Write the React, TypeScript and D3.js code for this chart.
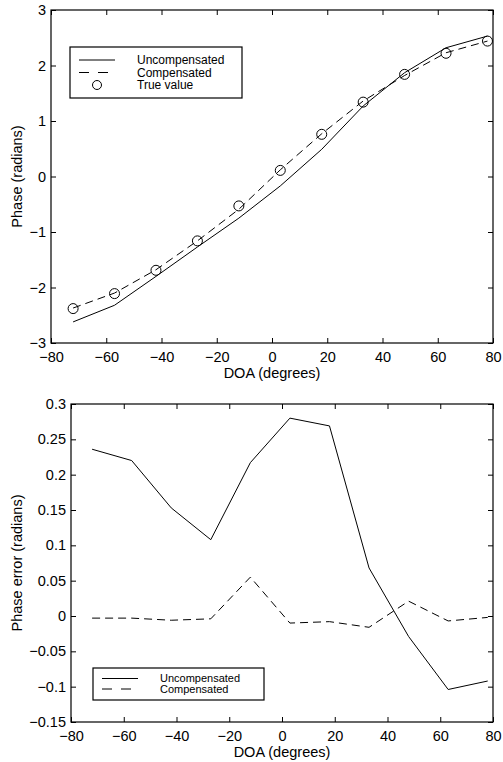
import React, { useEffect, useRef } from 'react';
import * as d3 from 'd3';

// DOA sample points (degrees)
const doa = [-72, -57, -42, -27, -12, 3, 18, 33, 48, 63, 78];

// top panel: phase (radians)
const trueVals = [-2.38, -2.11, -1.69, -1.16, -0.53, 0.11, 0.76, 1.34, 1.84, 2.22, 2.44];
const uncompPhase = [-2.62, -2.32, -1.8, -1.27, -0.75, -0.17, 0.49, 1.27, 1.87, 2.32, 2.53];
const compPhase = [-2.37, -2.1, -1.68, -1.16, -0.59, 0.12, 0.77, 1.36, 1.82, 2.23, 2.44];

// bottom panel: phase error (radians)
const uncompErr = [0.236, 0.22, 0.153, 0.108, 0.217, 0.28, 0.269, 0.068, -0.029, -0.104, -0.092];
const compErr = [-0.003, -0.003, -0.006, -0.004, 0.055, -0.01, -0.008, -0.016, 0.021, -0.007, -0.002];

const xTicks = [-80, -60, -40, -20, 0, 20, 40, 60, 80];
const phaseTicks = [-3, -2, -1, 0, 1, 2, 3];
const errTicks = [-0.15, -0.1, -0.05, 0, 0.05, 0.1, 0.15, 0.2, 0.25, 0.3];

const W = 503;
const H = 762;
const FONT = '"Liberation Sans", Arial, Helvetica, sans-serif';
const DASH = '8,5';

const fmtTick = (v: number) => d3.format('')(v).replace('-', '\u2212');

function drawPanel(svg: any, cfg: any) {
  const { l, r, t, b, yDomain, yTicks, yLabel } = cfg;
  const g = svg.append('g');

  const x = d3.scaleLinear().domain([-80, 80]).range([l, r]);
  const y = d3.scaleLinear().domain(yDomain).range([b, t]);

  const tickLen = 5;
  const axes = [
    { gen: d3.axisBottom(x).tickValues(xTicks), tr: `translate(0,${b})`, labels: true, pad: 9 },
    { gen: d3.axisTop(x).tickValues(xTicks), tr: `translate(0,${t})`, labels: false, pad: 0 },
    { gen: d3.axisLeft(y).tickValues(yTicks), tr: `translate(${l},0)`, labels: true, pad: 5 },
    { gen: d3.axisRight(y).tickValues(yTicks), tr: `translate(${r},0)`, labels: false, pad: 0 },
  ];
  axes.forEach((a) => {
    const ag = g.append('g').attr('transform', a.tr)
      .call(a.gen.tickSizeInner(-tickLen).tickSizeOuter(0).tickPadding(a.pad)
        .tickFormat(a.labels ? fmtTick : () => ''));
    ag.select('.domain').remove();
    ag.selectAll('line').attr('stroke', '#000').attr('stroke-width', 1);
    ag.selectAll('text').attr('font-family', FONT).attr('font-size', 14.5).attr('fill', '#000');
  });

  // box
  g.append('rect')
    .attr('x', l).attr('y', t).attr('width', r - l).attr('height', b - t)
    .attr('fill', 'none').attr('stroke', '#000').attr('stroke-width', 1.2);

  // data
  const line = (vals: number[]) => d3.line<number>().x((_, i) => x(doa[i])).y((d) => y(d))(vals);
  cfg.series.forEach((s: any) => {
    g.append('path').attr('d', line(s.values))
      .attr('fill', 'none').attr('stroke', '#000').attr('stroke-width', 1)
      .attr('stroke-dasharray', s.dashed ? DASH : null);
  });
  if (cfg.points) {
    g.selectAll('.pt').data(cfg.points).join('circle')
      .attr('cx', (_: number, i: number) => x(doa[i]))
      .attr('cy', (d: number) => y(d))
      .attr('r', 5).attr('fill', 'none').attr('stroke', '#000').attr('stroke-width', 1);
  }

  // axis labels
  g.append('text')
    .attr('x', (l + r) / 2).attr('y', b + 35)
    .attr('text-anchor', 'middle').attr('font-family', FONT).attr('font-size', 14.5)
    .text('DOA (degrees)');
  g.append('text')
    .attr('transform', `translate(${cfg.yLabelX},${(t + b) / 2}) rotate(-90)`)
    .attr('text-anchor', 'middle').attr('font-family', FONT).attr('font-size', 14.5)
    .text(yLabel);

  // legend
  const lg = cfg.legend;
  g.append('rect')
    .attr('x', lg.x).attr('y', lg.y).attr('width', lg.w).attr('height', lg.h)
    .attr('fill', '#fff').attr('stroke', '#000').attr('stroke-width', 1.2);
  lg.items.forEach((it: any, i: number) => {
    const yy = lg.y + lg.first + i * lg.step;
    if (it.kind === 'circle') {
      g.append('circle').attr('cx', lg.x + 27).attr('cy', yy).attr('r', 4.5)
        .attr('fill', 'none').attr('stroke', '#000');
    } else {
      g.append('line').attr('x1', lg.x + 9).attr('x2', lg.x + 45).attr('y1', yy).attr('y2', yy)
        .attr('stroke', '#000').attr('stroke-dasharray', it.kind === 'dash' ? '10,9' : null);
    }
    g.append('text').attr('x', lg.x + 67).attr('y', yy).attr('dy', '0.35em')
      .attr('font-family', FONT).attr('font-size', lg.font).text(it.label);
  });
}

export default function App() {
  const ref = useRef<SVGSVGElement>(null);
  useEffect(() => {
    const svg = d3.select(ref.current);
    svg.selectAll('*').remove();

    drawPanel(svg, {
      l: 51, r: 493, t: 10, b: 343,
      yDomain: [-3, 3], yTicks: phaseTicks, yLabel: 'Phase (radians)', yLabelX: 22,
      series: [{ values: uncompPhase }, { values: compPhase, dashed: true }],
      points: trueVals,
      legend: {
        x: 70, y: 47, w: 172, h: 51, first: 13, step: 12.5, font: 12,
        items: [
          { kind: 'solid', label: 'Uncompensated' },
          { kind: 'dash', label: 'Compensated' },
          { kind: 'circle', label: 'True value' },
        ],
      },
    });

    drawPanel(svg, {
      l: 71, r: 493, t: 404, b: 722,
      yDomain: [-0.15, 0.3], yTicks: errTicks, yLabel: 'Phase error (radians)', yLabelX: 22,
      series: [{ values: uncompErr }, { values: compErr, dashed: true }],
      legend: {
        x: 93, y: 668, w: 171, h: 32, first: 10.5, step: 10.5, font: 11,
        items: [
          { kind: 'solid', label: 'Uncompensated' },
          { kind: 'dash', label: 'Compensated' },
        ],
      },
    });
  }, []);

  return (
    <svg ref={ref} width={W} height={H}
      style={{ position: 'absolute', left: 0, top: 0, background: '#fff' }} />
  );
}
